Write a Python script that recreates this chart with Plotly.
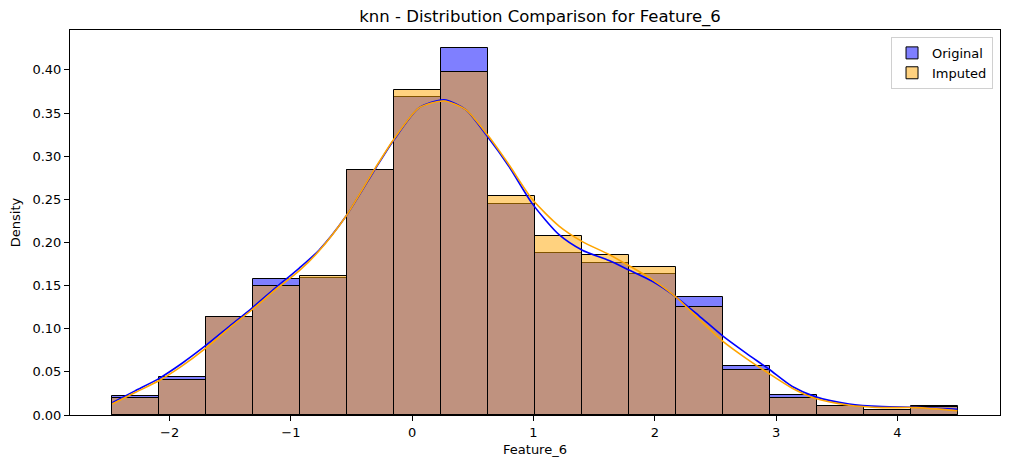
#plot.py - knn imputation, Feature_6 histogram + kde

import plotly.graph_objects as go

# bin edges (equal width bins)
bin_edges = [-2.473, -2.086, -1.698, -1.311, -0.924, -0.537, -0.149, 0.238, 0.625,
             1.013, 1.400, 1.787, 2.174, 2.562, 2.949, 3.336, 3.723, 4.111, 4.498]

dens_original = [0.022, 0.044, 0.114, 0.158, 0.159, 0.284, 0.369, 0.425, 0.245,
                 0.188, 0.176, 0.164, 0.137, 0.057, 0.023, 0.010, 0.006, 0.011]
dens_imputed = [0.020, 0.041, 0.114, 0.150, 0.161, 0.284, 0.377, 0.398, 0.254,
                0.207, 0.186, 0.171, 0.125, 0.052, 0.020, 0.010, 0.006, 0.009]

# kde curves
kde_x = [-2.473, -2.285, -2.086, -1.897, -1.707, -1.510, -1.321, -1.13, -0.933, -0.769,
         -0.548, -0.301, -0.150, 0.056, 0.262, 0.441, 0.619, 0.798, 0.990, 1.211,
         1.403, 1.623, 1.788, 1.980, 2.173, 2.365, 2.557, 2.750, 2.942, 3.134,
         3.327, 3.602, 3.876, 4.152, 4.495]
kde_original = [0.0143, 0.028, 0.0425, 0.060, 0.080, 0.1025, 0.124, 0.147, 0.170, 0.191,
                0.230, 0.286, 0.319, 0.356, 0.3654, 0.354, 0.323, 0.288, 0.245, 0.209,
                0.191, 0.179, 0.168, 0.155, 0.137, 0.115, 0.092, 0.072, 0.053, 0.033,
                0.021, 0.0128, 0.0097, 0.0089, 0.0066]
kde_imputed = [0.0128, 0.026, 0.040, 0.057, 0.077, 0.1005, 0.122, 0.145, 0.167, 0.190,
               0.230, 0.287, 0.320, 0.356, 0.3639, 0.354, 0.325, 0.290, 0.250, 0.219,
               0.201, 0.186, 0.173, 0.157, 0.137, 0.111, 0.086, 0.066, 0.048, 0.031,
               0.019, 0.0113, 0.0086, 0.0085, 0.005]

x_ticks = [-2, -1, 0, 1, 2, 3, 4]

centers = [(a + b) / 2 for a, b in zip(bin_edges[:-1], bin_edges[1:])]
widths = [b - a for a, b in zip(bin_edges[:-1], bin_edges[1:])]

fig = go.Figure()
# seaborn draws: blue bars, blue line, then orange bars, orange line
fig.add_trace(go.Bar(x=centers, y=dens_original, width=widths, name='Original',
                     marker=dict(color='rgba(0,0,255,0.5)', line=dict(color='black', width=1))))
fig.add_trace(go.Scatter(x=kde_x, y=kde_original, mode='lines',
                         line=dict(color='blue', width=1.6, shape='spline', smoothing=0.7),
                         showlegend=False))
fig.add_trace(go.Bar(x=centers, y=dens_imputed, width=widths, name='Imputed',
                     marker=dict(color='rgba(255,165,0,0.5)', line=dict(color='black', width=1))))
fig.add_trace(go.Scatter(x=kde_x, y=kde_imputed, mode='lines',
                         line=dict(color='orange', width=1.6, shape='spline', smoothing=0.7),
                         showlegend=False))

xpad = 0.05 * (bin_edges[-1] - bin_edges[0])
fig.update_layout(
    width=1010, height=468,
    barmode='overlay', bargap=0,
    plot_bgcolor='white', paper_bgcolor='white',
    font=dict(family='DejaVu Sans', size=13, color='black'),
    margin=dict(l=70, r=10, t=30, b=53),
    title=dict(text='knn - Distribution Comparison for Feature_6', x=0.5347, xanchor='center',
               y=0.966, yanchor='middle', font=dict(size=16.5)),
    legend=dict(x=0.9925, y=0.982, xanchor='right', yanchor='top',
                bordercolor='#d0d0d0', borderwidth=1, font=dict(size=13),
                traceorder='normal', tracegroupgap=0),
    xaxis=dict(title=dict(text='Feature_6', standoff=6, font=dict(size=13)),
               range=[bin_edges[0] - xpad, bin_edges[-1] + xpad], automargin=False,
               tickvals=x_ticks, showgrid=False, zeroline=False, showline=True, mirror=True,
               linecolor='black', linewidth=1, ticks='outside', ticklen=5, tickcolor='black'),
    yaxis=dict(title=dict(text='Density', standoff=8, font=dict(size=13)),
               range=[0, max(dens_original) * 1.05], automargin=False,
               dtick=0.05, tickformat='.2f', showgrid=False, zeroline=False, showline=True,
               mirror=True, linecolor='black', linewidth=1, ticks='outside', ticklen=5,
               tickcolor='black'),
)

# drop the page's default body margin so the figure sits at 0,0
fig.write_html("out.html", config={'displayModeBar': False},
               post_script="document.body.style.margin='0';")
